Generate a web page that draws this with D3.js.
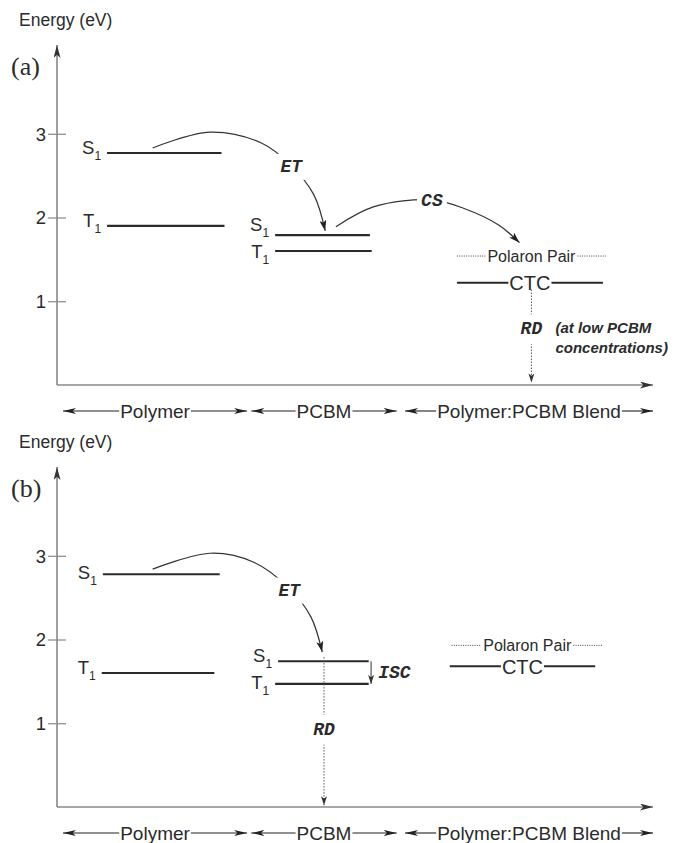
<!DOCTYPE html>
<html><head><meta charset="utf-8">
<script src="https://cdn.jsdelivr.net/npm/d3@7"></script>
<style>body{margin:0;background:#fff}</style>
</head><body><svg id="c" width="681" height="843"></svg>
<script>
// ---------------- data ----------------
const energyTicks = [1, 2, 3];
const categories = ["Polymer", "PCBM", "Polymer:PCBM Blend"];
const categoryStart = [1.0, 32.6, 58.4];
const categoryEnd = [31.9, 57.0, 100];
const panelNames = ["(a)", "(b)"];

// energy levels: state, subscript, energy (eV), x-extent (arbitrary units 0..100)
const levelsA = [
  {state: "S", sub: "1", energy: 2.77, from: 8.4, to: 27.6, pos: "on"},
  {state: "T", sub: "1", energy: 1.90, from: 8.4, to: 28.1, pos: "on"},
  {state: "S", sub: "1", energy: 1.79, from: 36.6, to: 52.5, pos: "above"},
  {state: "T", sub: "1", energy: 1.60, from: 36.6, to: 52.8, pos: "below"}
];
const levelsB = [
  {state: "S", sub: "1", energy: 2.78, from: 7.7, to: 27.3, pos: "mid"},
  {state: "T", sub: "1", energy: 1.60, from: 7.5, to: 26.4, pos: "on"},
  {state: "S", sub: "1", energy: 1.74, from: 37.1, to: 52.3, pos: "on"},
  {state: "T", sub: "1", energy: 1.47, from: 36.6, to: 52.3, pos: "mid"}
];
const polaronA = {label: "Polaron Pair", energy: 1.54, from: 67.1, to: 92.1};
const polaronB = {label: "Polaron Pair", energy: 1.93, from: 66.2, to: 91.6};
const ctcA = {label: "CTC", energy: 1.22, from: 67.1, to: 91.6};
const ctcB = {label: "CTC", energy: 1.68, from: 65.9, to: 90.3};

// transfer arrows: [x-unit, energy] points, label and its point
const transfersA = [
  {label: "ET", at: [39.3, 2.62], pts: [[16.05, 2.83], [25.6, 3.02], [34.3, 2.89], [39.3, 2.62], [43.1, 2.27], [45.0, 1.84]]},
  {label: "CS", at: [62.9, 2.21], pts: [[46.8, 1.89], [53.2, 2.13], [62.9, 2.21], [68.2, 2.11], [74.1, 1.91], [77.6, 1.70]]}
];
const transfersB = [
  {label: "ET", at: [38.96, 2.60], pts: [[16.05, 2.84], [25.75, 3.03], [33.1, 2.92], [38.96, 2.61], [42.6, 2.27], [44.5, 1.85]]}
];
// radiative decay (dotted): x-unit, from energy, to energy, label energy
const decayA = {label: "RD", x: 79.6, from: 1.14, to: 0.03, at: 0.68};
const decayB = {label: "RD", x: 44.8, from: 1.79, to: 0.02, at: 0.94};
// intersystem crossing (panel b)
const iscB = {label: "ISC", x: 52.7, from: 1.74, to: 1.47, labelX: 56.6, at: 1.62};
const noteA = ["(at low PCBM", "concentrations)"];

// ---------------- drawing ----------------
const svg = d3.select("#c");
const defs = svg.append("defs");
function marker(id, len, wid, color) {
  defs.append("marker").attr("id", id).attr("viewBox", `0 0 ${len} ${wid}`)
    .attr("refX", len).attr("refY", wid / 2).attr("markerWidth", len).attr("markerHeight", wid)
    .attr("markerUnits", "userSpaceOnUse").attr("orient", "auto-start-reverse")
    .append("path").attr("d", `M0,0 L${len},${wid/2} L0,${wid} L${len*0.25},${wid/2} Z`).attr("fill", color);
}
marker("axArrow", 13, 7, "#333");
marker("curveArrow", 11, 7, "#222");
marker("smallArrow", 9, 6, "#333");
marker("labArrow", 13, 6, "#222");

const x = d3.scaleLinear().domain([0, 100]).range([57, 653]);
const SANS = "'Liberation Sans', Arial, Helvetica, sans-serif";
const MONO = "'Liberation Mono', 'Courier New', monospace";
const TXT = "#2b2b2b";

const panels = [
  {name: panelNames[0], top: 45, bottom: 385, levels: levelsA, polaron: polaronA, ctc: ctcA, transfers: transfersA, decay: decayA, isc: null, note: noteA},
  {name: panelNames[1], top: 467, bottom: 807, levels: levelsB, polaron: polaronB, ctc: ctcB, transfers: transfersB, decay: decayB, isc: iscB, note: null}
];
const posDy = {above: -4, on: 1, mid: 5, below: 7};

panels.forEach(p => {
  const y = d3.scaleLinear().domain([0, 4.06]).range([p.bottom, p.top]);
  const g = svg.append("g");

  // titles
  g.append("text").attr("x", 19).attr("y", p.top - 19).text("Energy (eV)")
    .attr("font-family", SANS).attr("font-size", 17.5).attr("fill", TXT);
  g.append("text").attr("x", 11).attr("y", p.top + 30).text(p.name)
    .attr("font-family", "'Liberation Serif', 'Times New Roman', serif").attr("font-size", 26).attr("fill", TXT);

  // y axis
  const ax = g.append("g").attr("transform", `translate(${x(0)},0)`)
    .call(d3.axisLeft(y).tickValues(energyTicks).tickFormat(d3.format("d")).tickSize(9).tickPadding(3));
  ax.select(".domain").remove();
  ax.selectAll(".tick line").attr("x1", 9).attr("x2", -9).attr("stroke", "#888").attr("stroke-width", 1.2);
  ax.selectAll(".tick text").attr("font-family", SANS).attr("font-size", 18.5).attr("fill", TXT).attr("dy", "0.35em").attr("x", -11);
  g.append("line").attr("x1", x(0)).attr("x2", x(0)).attr("y1", y(0)).attr("y2", y(4.06))
    .attr("stroke", "#888").attr("stroke-width", 1.6).attr("marker-end", "url(#axArrow)");
  g.append("line").attr("x1", x(0)).attr("x2", x(100)).attr("y1", y(0)).attr("y2", y(0))
    .attr("stroke", "#888").attr("stroke-width", 1.6).attr("marker-end", "url(#axArrow)");

  // category labels with double arrows
  const cy = p.bottom + 26;
  categories.forEach((c, i) => {
    const cx = (x(categoryStart[i]) + x(categoryEnd[i])) / 2;
    const t = g.append("text").attr("x", cx).attr("y", cy).attr("dy", "0.35em").attr("text-anchor", "middle")
      .text(c).attr("font-family", SANS).attr("font-size", 19).attr("fill", TXT);
    const w = t.node().getComputedTextLength();
    g.append("line").attr("x1", cx - w / 2 - 1).attr("x2", x(categoryStart[i])).attr("y1", cy).attr("y2", cy)
      .attr("stroke", "#222").attr("stroke-width", 1.1).attr("marker-end", "url(#labArrow)");
    g.append("line").attr("x1", cx + w / 2 + 1).attr("x2", x(categoryEnd[i])).attr("y1", cy).attr("y2", cy)
      .attr("stroke", "#222").attr("stroke-width", 1.1).attr("marker-end", "url(#labArrow)");
  });

  // levels
  p.levels.forEach(l => {
    g.append("line").attr("x1", x(l.from)).attr("x2", x(l.to)).attr("y1", y(l.energy)).attr("y2", y(l.energy))
      .attr("stroke", "#2a2a2a").attr("stroke-width", 2.1);
    const t = g.append("text").attr("x", x(l.from) - 6).attr("y", y(l.energy) + posDy[l.pos])
      .attr("text-anchor", "end").attr("font-family", SANS).attr("font-size", 18.5).attr("fill", TXT);
    t.append("tspan").text(l.state);
    t.append("tspan").text(l.sub).attr("font-size", 12).attr("dy", 6);
  });

  // polaron pair (dotted)
  {
    const pp = p.polaron, py = y(pp.energy), cx = (x(pp.from) + x(pp.to)) / 2;
    const t = g.append("text").attr("x", cx).attr("y", py).attr("dy", "0.35em").attr("text-anchor", "middle")
      .text(pp.label).attr("font-family", SANS).attr("font-size", 16).attr("fill", TXT);
    const w = t.node().getComputedTextLength();
    [[x(pp.from), cx - w / 2 - 2], [cx + w / 2 + 2, x(pp.to)]].forEach(s =>
      g.append("line").attr("x1", s[0]).attr("x2", s[1]).attr("y1", py).attr("y2", py)
        .attr("stroke", "#444").attr("stroke-width", 1).attr("stroke-dasharray", "1,1.3"));
  }
  // CTC level
  {
    const c = p.ctc, py = y(c.energy), cx = (x(c.from) + x(c.to)) / 2;
    const t = g.append("text").attr("x", cx).attr("y", py).attr("dy", "0.36em").attr("text-anchor", "middle")
      .text(c.label).attr("font-family", SANS).attr("font-size", 20).attr("fill", TXT);
    const w = t.node().getComputedTextLength();
    [[x(c.from), cx - w / 2 - 1], [cx + w / 2 + 1, x(c.to)]].forEach(s =>
      g.append("line").attr("x1", s[0]).attr("x2", s[1]).attr("y1", py).attr("y2", py)
        .attr("stroke", "#2a2a2a").attr("stroke-width", 2));
  }

  // transfer curves
  const line = d3.line().x(d => x(d[0])).y(d => y(d[1])).curve(d3.curveCatmullRom.alpha(0.5));
  p.transfers.forEach(tr => {
    g.append("path").attr("d", line(tr.pts)).attr("fill", "none").attr("stroke", "#333")
      .attr("stroke-width", 1.2).attr("marker-end", "url(#curveArrow)");
    const t = g.append("text").attr("x", x(tr.at[0])).attr("y", y(tr.at[1])).attr("dy", "0.35em")
      .attr("text-anchor", "middle").text(tr.label).attr("font-family", MONO).attr("font-weight", "bold")
      .attr("font-style", "italic").attr("font-size", 18).attr("fill", TXT);
    const bb = t.node().getBBox();
    g.insert("rect", () => t.node()).attr("x", bb.x - 4).attr("y", bb.y - 3).attr("width", bb.width + 8)
      .attr("height", bb.height + 6).attr("fill", "#fff");
  });

  // radiative decay (dotted)
  {
    const d = p.decay;
    g.append("line").attr("x1", x(d.x)).attr("x2", x(d.x)).attr("y1", y(d.from)).attr("y2", y(d.to))
      .attr("stroke", "#555").attr("stroke-width", 1).attr("stroke-dasharray", "1.5,1.5")
      .attr("marker-end", "url(#smallArrow)");
    const t = g.append("text").attr("x", x(d.x)).attr("y", y(d.at)).attr("dy", "0.35em")
      .attr("text-anchor", "middle").text(d.label).attr("font-family", MONO).attr("font-weight", "bold")
      .attr("font-style", "italic").attr("font-size", 18).attr("fill", TXT);
    const bb = t.node().getBBox();
    g.insert("rect", () => t.node()).attr("x", bb.x - 2).attr("y", bb.y - 5).attr("width", bb.width + 4)
      .attr("height", bb.height + 10).attr("fill", "#fff");
    if (p.note) {
      p.note.forEach((s, i) => g.append("text").attr("x", x(d.x) + 24).attr("y", y(d.at) + i * 20)
        .attr("dy", "0.35em").text(s).attr("font-family", SANS).attr("font-weight", "bold")
        .attr("font-style", "italic").attr("font-size", 15).attr("fill", TXT));
    }
  }

  // intersystem crossing
  if (p.isc) {
    const s = p.isc;
    g.append("line").attr("x1", x(s.x)).attr("x2", x(s.x)).attr("y1", y(s.from)).attr("y2", y(s.to))
      .attr("stroke", "#333").attr("stroke-width", 1).attr("marker-end", "url(#smallArrow)");
    g.append("text").attr("x", x(s.labelX)).attr("y", y(s.at)).attr("dy", "0.35em").attr("text-anchor", "middle")
      .text(s.label).attr("font-family", MONO).attr("font-weight", "bold").attr("font-style", "italic")
      .attr("font-size", 18).attr("fill", TXT);
  }
});
</script></body></html>
